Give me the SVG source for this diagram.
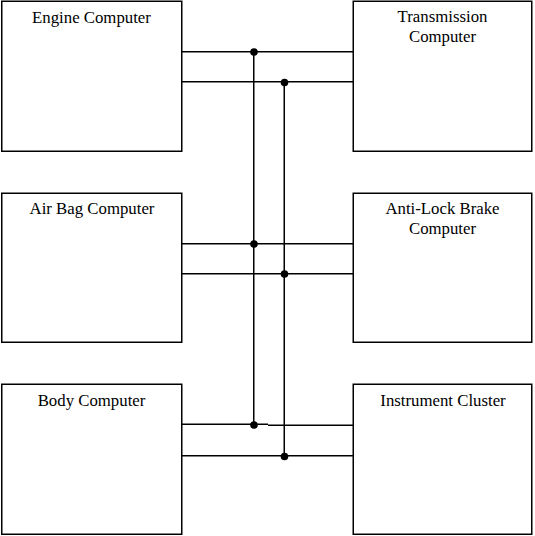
<svg xmlns="http://www.w3.org/2000/svg" width="535" height="536" viewBox="0 0 535 536">
<style>
.box{fill:#fff;stroke:#000;stroke-width:1.5}
.lbl{font-family:"Liberation Serif","Times New Roman",serif;font-size:16.8px;fill:#000;text-anchor:middle}
.wire{stroke:#000;stroke-width:1.5;fill:none}
.dot{fill:#000}
</style>
<rect width="535" height="536" fill="#fff"/>
<g id="engine"><rect class="box" x="1.75" y="1.25" width="180" height="150"/><text class="lbl" x="91.5" y="23">Engine Computer</text></g>
<g id="transmission"><rect class="box" x="353.25" y="1.25" width="178.5" height="150"/><text class="lbl" x="442.5" y="22">Transmission</text><text class="lbl" x="442.5" y="42">Computer</text></g>
<g id="airbag"><rect class="box" x="1.75" y="193.25" width="180" height="149"/><text class="lbl" x="92" y="214">Air Bag Computer</text></g>
<g id="abs"><rect class="box" x="353.25" y="193.25" width="178.5" height="149"/><text class="lbl" x="442.5" y="214">Anti-Lock Brake</text><text class="lbl" x="442.5" y="234">Computer</text></g>
<g id="body"><rect class="box" x="1.75" y="384.25" width="180" height="150"/><text class="lbl" x="91.5" y="406">Body Computer</text></g>
<g id="cluster"><rect class="box" x="353.25" y="384.25" width="178.5" height="150"/><text class="lbl" x="443" y="406">Instrument Cluster</text></g>
<g id="connectors">
<line class="wire" x1="181.75" y1="51.75" x2="353.25" y2="51.75"/>
<line class="wire" x1="181.75" y1="81.75" x2="353.25" y2="81.75"/>
<line class="wire" x1="181.75" y1="243.75" x2="353.25" y2="243.75"/>
<line class="wire" x1="181.75" y1="273.75" x2="353.25" y2="273.75"/>
<line class="wire" x1="181.75" y1="424.25" x2="268" y2="424.25"/>
<line class="wire" x1="268" y1="425.25" x2="353.25" y2="425.25"/>
<line class="wire" x1="181.75" y1="455.75" x2="353.25" y2="455.75"/>
<line class="wire" x1="253.75" y1="51.75" x2="253.75" y2="425"/>
<line class="wire" x1="284.25" y1="81.75" x2="284.25" y2="456"/>
<circle class="dot" cx="254" cy="52" r="3.8"/>
<circle class="dot" cx="284.5" cy="82.5" r="3.8"/>
<circle class="dot" cx="254" cy="244" r="3.8"/>
<circle class="dot" cx="284.5" cy="274" r="3.8"/>
<circle class="dot" cx="254" cy="425" r="3.8"/>
<circle class="dot" cx="284.5" cy="456.5" r="3.8"/>
</g>
</svg>
